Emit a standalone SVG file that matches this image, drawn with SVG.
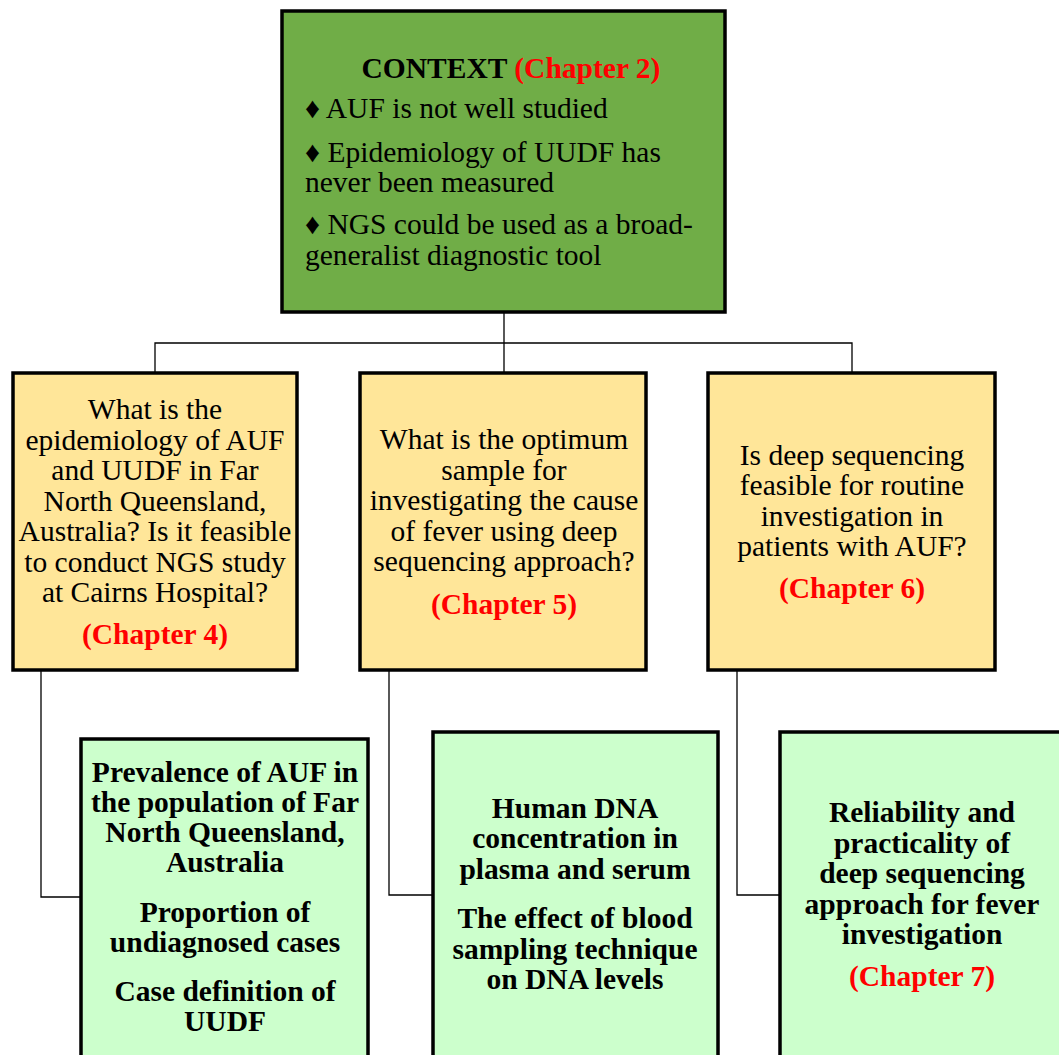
<svg xmlns="http://www.w3.org/2000/svg" width="1059" height="1055" viewBox="0 0 1059 1055">
<style>
.box{stroke:#000;stroke-width:3.5}
.ctx{fill:#70AD47}
.q{fill:#FFE699}
.r{fill:#CCFFCC}
text{font-family:"Liberation Serif","Times New Roman",serif;font-size:29.5px;fill:#000}
.b{font-weight:bold}
.red{fill:#FF0000;font-weight:bold}
.c{text-anchor:middle}
.cn{fill:none;stroke:#000;stroke-width:1.3}
</style>
<g id="connectors">
<path class="cn" d="M504 313V372M155 372V343H852V372"/>
<path class="cn" d="M41 671V897H80"/>
<path class="cn" d="M389 671V895H432"/>
<path class="cn" d="M737 671V895H779"/>
</g>
<g transform="translate(0,1)">
<g id="context">
<rect class="box ctx" x="282" y="10" width="443" height="301"/>
<text x="511" y="77" class="c b">CONTEXT <tspan class="red">(Chapter 2)</tspan></text>
<text x="305" y="117">♦ AUF is not well studied</text>
<text x="305" y="161">♦ Epidemiology of UUDF has</text>
<text x="305" y="191">never been measured</text>
<text x="305" y="233">♦ NGS could be used as a broad-</text>
<text x="305" y="264">generalist diagnostic tool</text>
</g>
<g id="q4">
<rect class="box q" x="13" y="372" width="284" height="297"/>
<text class="c" x="155" y="418">What is the</text>
<text class="c" x="155" y="449">epidemiology of AUF</text>
<text class="c" x="155" y="479">and UUDF in Far</text>
<text class="c" x="155" y="510">North Queensland,</text>
<text class="c" x="155" y="540">Australia? Is it feasible</text>
<text class="c" x="155" y="571">to conduct NGS study</text>
<text class="c" x="155" y="601">at Cairns Hospital?</text>
<text class="c red" x="155" y="643">(Chapter 4)</text>
</g>
<g id="q5">
<rect class="box q" x="360" y="372" width="286" height="297"/>
<text class="c" x="504" y="448">What is the optimum</text>
<text class="c" x="504" y="479">sample for</text>
<text class="c" x="504" y="509">investigating the cause</text>
<text class="c" x="504" y="540">of fever using deep</text>
<text class="c" x="504" y="570">sequencing approach?</text>
<text class="c red" x="504" y="613">(Chapter 5)</text>
</g>
<g id="q6">
<rect class="box q" x="708" y="372" width="287" height="297"/>
<text class="c" x="852" y="464">Is deep sequencing</text>
<text class="c" x="852" y="494">feasible for routine</text>
<text class="c" x="852" y="525">investigation in</text>
<text class="c" x="852" y="555">patients with AUF?</text>
<text class="c red" x="852" y="597">(Chapter 6)</text>
</g>
<g id="r4">
<rect class="box r" x="81" y="738" width="287" height="330"/>
<text class="c b" x="225" y="781">Prevalence of AUF in</text>
<text class="c b" x="225" y="811">the population of Far</text>
<text class="c b" x="225" y="841">North Queensland,</text>
<text class="c b" x="225" y="871">Australia</text>
<text class="c b" x="225" y="921">Proportion of</text>
<text class="c b" x="225" y="951">undiagnosed cases</text>
<text class="c b" x="225" y="1000">Case definition of</text>
<text class="c b" x="225" y="1030">UUDF</text>
</g>
<g id="r5">
<rect class="box r" x="433" y="731" width="285" height="340"/>
<text class="c b" x="575" y="817">Human DNA</text>
<text class="c b" x="575" y="847">concentration in</text>
<text class="c b" x="575" y="878">plasma and serum</text>
<text class="c b" x="575" y="927">The effect of blood</text>
<text class="c b" x="575" y="958">sampling technique</text>
<text class="c b" x="575" y="988">on DNA levels</text>
</g>
<g id="r7">
<rect class="box r" x="780" y="731" width="300" height="340"/>
<text class="c b" x="922" y="821">Reliability and</text>
<text class="c b" x="922" y="852">practicality of</text>
<text class="c b" x="922" y="882">deep sequencing</text>
<text class="c b" x="922" y="913">approach for fever</text>
<text class="c b" x="922" y="943">investigation</text>
<text class="c red" x="922" y="985">(Chapter 7)</text>
</g>
</g>
</svg>
